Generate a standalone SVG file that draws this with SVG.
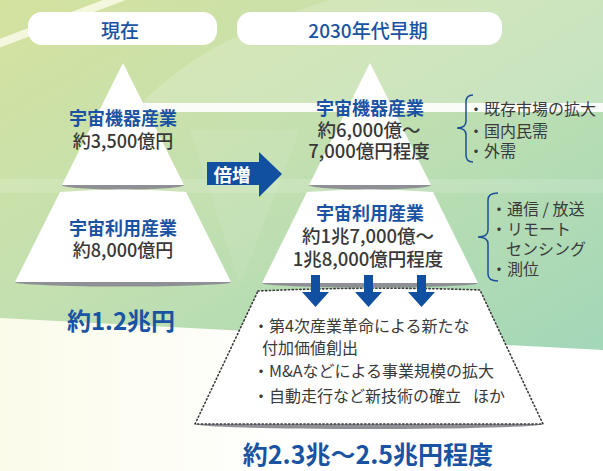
<svg xmlns="http://www.w3.org/2000/svg" width="603" height="471" viewBox="0 0 603 471">
<defs>
<linearGradient id="bg" x1="0" y1="0" x2="1" y2="1">
<stop offset="0" stop-color="#d4e29f"/>
<stop offset="0.45" stop-color="#c4e0b0"/>
<stop offset="1" stop-color="#a2d7b8"/>
</linearGradient>
<linearGradient id="wb" x1="0" y1="0" x2="1" y2="0">
<stop offset="0" stop-color="#fbfbea"/>
<stop offset="0.5" stop-color="#ffffff"/>
<stop offset="1" stop-color="#ffffff"/>
</linearGradient>
<style>
.blue{font-family:"Noto Sans CJK JP","Noto Sans",sans-serif;font-weight:700;fill:#1a53a3;text-anchor:middle;dominant-baseline:central}
.gray{font-family:"Noto Sans CJK JP","Noto Sans",sans-serif;font-weight:500;fill:#383838;text-anchor:middle;dominant-baseline:central}
.list{font-family:"Noto Sans CJK JP","Noto Sans",sans-serif;font-weight:400;fill:#3a3a3a;font-size:16px;dominant-baseline:central}
.hdr{font-family:"Noto Sans CJK JP","Noto Sans",sans-serif;font-weight:500;fill:#1a53a3;font-size:19px;text-anchor:middle;dominant-baseline:central}
.pill{fill:#ffffff}
.shadow{fill:#8f9095}
.pyr{fill:#ffffff}
.brace{fill:none;stroke:#1e4f9a;stroke-width:1.5}
.arrow{fill:#1150a0}
</style>
</defs>

<g id="background">
<rect x="0" y="0" width="603" height="471" fill="url(#wb)"/>
<path d="M0 0 H603 V350 L0 318 Z" fill="url(#bg)"/>
<path d="M140 105 Q200 40 330 0 H603 V105 Z" fill="#ffffff" opacity="0.18"/>
<path d="M190 130 L300 130 L240 285 Z" fill="#ffffff" opacity="0.08"/>
<rect x="0" y="179" width="603" height="14" fill="#ffffff" opacity="0.14"/>
<path d="M-5 45 L125 -4" stroke="#f4f7de" stroke-width="8"/>
<rect x="140" y="103" width="463" height="9" fill="#ffffff" opacity="0.9"/>
</g>

<g id="header-now">
<rect class="pill" x="28" y="12" width="189" height="33" rx="14"/>
<text class="hdr" x="120" y="29">現在</text>
</g>
<g id="header-2030">
<rect class="pill" x="237" y="12" width="265" height="33" rx="14"/>
<text class="hdr" x="368" y="29">2030年代早期</text>
</g>

<g id="now-equipment">
<ellipse class="shadow" cx="123" cy="185" rx="61" ry="4.5"/>
<path class="pyr" d="M123 63 L62 185 L184 185 Z"/>
<text class="blue" x="123" y="117" font-size="18">宇宙機器産業</text>
<text class="gray" x="123" y="140" font-size="18">約3,500億円</text>
</g>
<g id="now-utilization">
<ellipse class="shadow" cx="123" cy="282" rx="108" ry="4.5"/>
<path class="pyr" d="M60 192 Q123 187 186 192 L231 282 L15 282 Z"/>
<text class="blue" x="123" y="227" font-size="18">宇宙利用産業</text>
<text class="gray" x="123" y="249" font-size="18">約8,000億円</text>
</g>
<g id="now-total">
<text class="blue" x="121" y="319" font-size="24">約1.2兆円</text>
</g>

<g id="future-equipment">
<ellipse class="shadow" cx="370" cy="185" rx="61" ry="4.5"/>
<path class="pyr" d="M370 63 L309 185 L431 185 Z"/>
<text class="blue" x="370" y="107" font-size="18">宇宙機器産業</text>
<text class="gray" x="369" y="129" font-size="18.5">約6,000億〜</text>
<text class="gray" x="369" y="150" font-size="18.5">7,000億円程度</text>
</g>
<g id="future-utilization">
<ellipse class="shadow" cx="370" cy="283" rx="108" ry="4.5"/>
<path class="pyr" d="M307 192 Q370 187 433 192 L478 283 L262 283 Z"/>
<text class="blue" x="370" y="212" font-size="18">宇宙利用産業</text>
<text class="gray" x="368" y="235" font-size="18.5">約1兆7,000億〜</text>
<text class="gray" x="368" y="258" font-size="18.5">1兆8,000億円程度</text>
</g>

<g id="future-new">
<ellipse class="shadow" cx="369" cy="424" rx="174" ry="5"/>
<path d="M258 291 Q369 286 480 290 L543 424 L195 424 Z" fill="#ffffff" stroke="#3a3a3a" stroke-width="1.6" stroke-dasharray="1.2 2.6" stroke-linecap="round"/>
<text class="list" x="253" y="325">・第4次産業革命による新たな</text>
<text class="list" x="262" y="347">付加価値創出</text>
<text class="list" x="253" y="370">・M&amp;Aなどによる事業規模の拡大</text>
<text class="list" x="253" y="395">・自動走行など新技術の確立<tspan dx="12">ほか</tspan></text>
</g>
<g id="future-total">
<text class="blue" x="368" y="453" font-size="25">約2.3兆〜2.5兆円程度</text>
</g>

<g id="note-equipment">
<path class="brace" d="M473 95 Q466 95 466 102 L466 121 Q466 128 457 128 Q466 128 466 135 L466 155 Q466 162 473 162"/>
<text class="list" x="468" y="108">・既存市場の拡大</text>
<text class="list" x="468" y="130">・国内民需</text>
<text class="list" x="468" y="150">・外需</text>
</g>
<g id="note-utilization">
<path class="brace" d="M498 193 Q488 193 488 200 L488 230 Q488 237 478 237 Q488 237 488 244 L488 274 Q488 281 498 281"/>
<text class="list" x="491" y="208">・通信 / 放送</text>
<text class="list" x="491" y="228">・リモート</text>
<text class="list" x="506" y="248">センシング</text>
<text class="list" x="491" y="268">・測位</text>
</g>

<g id="connectors">
<path class="arrow" d="M207 162 H259 V152 L282 174 L259 197 V185 H207 Z"/>
<text class="blue" x="232" y="174" font-size="18.5" style="fill:#ffffff">倍増</text>
<path class="arrow" d="M311 275 H320 V292 H329 L315.5 307 L302 292 H311 Z"/>
<path class="arrow" d="M364 275 H373 V292 H382 L368.5 307 L355 292 H364 Z"/>
<path class="arrow" d="M417 275 H426 V292 H435 L421.5 307 L408 292 H417 Z"/>
</g>
</svg>
